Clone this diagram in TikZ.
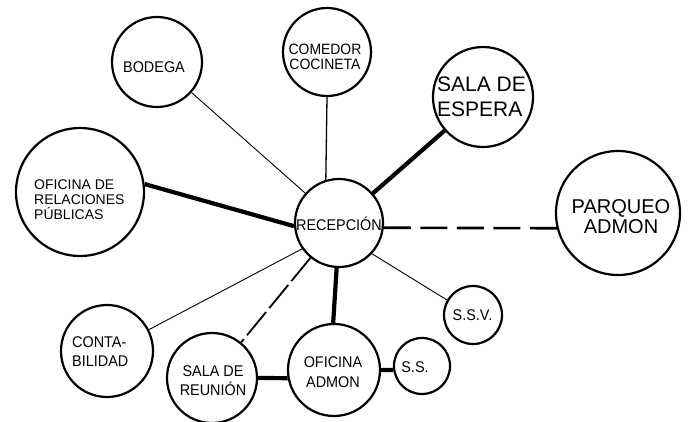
\documentclass[tikz,border=0pt]{standalone}
\usepackage{fontspec}
\setmainfont{Liberation Sans}
\newfontfamily\condf[FakeStretch=0.93]{Liberation Sans}
\begin{document}
\begin{tikzpicture}[x=1pt,y=-1pt,
  room/.style={draw=black,circle,line width=2.2pt,inner sep=0pt,fill=white},
  lbl/.style={inner sep=0pt,font=\condf\fontsize{15.5}{15}\selectfont},
  thinline/.style={line width=0.9pt},
  thickline/.style={line width=4.2pt},
  longdash/.style={line width=2.6pt,dash pattern=on 27pt off 9.5pt},
  meddash/.style={line width=1.8pt,dash pattern=on 30pt off 5pt}]
\useasboundingbox[fill=white] (0,0) rectangle (689,421);
% rooms
\node[room,minimum size=90pt]  (bod)   at (157,62)  {};
\node[room,minimum size=88pt]  (com)   at (327,52)  {};
\node[room,minimum size=100pt] (esp)   at (483,97)  {};
\node[room,minimum size=128pt] (rp)    at (80,192)  {};
\node[room,minimum size=88pt]  (rec)   at (339,223) {};
\node[room,minimum size=124pt] (parq)  at (618,213) {};
\node[room,minimum size=92pt]  (conta) at (107,351) {};
\node[room,minimum size=90pt]  (sr)    at (212,378) {};
\node[room,minimum size=92pt]  (oa)    at (334,370) {};
\node[room,minimum size=56pt]  (ss)    at (422,366) {};
\node[room,minimum size=58pt]  (ssv)   at (473,315) {};
% connectors
\draw[thinline] (bod) -- (rec);
\draw[line width=1.3pt] (com.south) -- (rec.107);
\draw[thickline] (esp) -- (rec);
\draw[thickline] (rp.7) -- (rec.184);
\draw[longdash] (rec.-6) -- (parq.194);
\draw[thinline] (rec.-43) -- (ssv.150);
\draw[thickline] (rec.267) -- (oa.91);
\draw[thinline] (rec.215) -- (conta.27);
\draw[meddash] (rec) -- (sr);
\draw[thickline] (sr.east) -- (oa.190);
\draw[thickline] (oa.east) -- (ss.188);
% labels
\node[lbl,anchor=base] (bod-t) at (154,72) {BODEGA};
\node[lbl,align=center,font=\condf\fontsize{15}{15}\selectfont] (com-t) at (325,57) {COMEDOR\\COCINETA};
\node[lbl,align=left,anchor=west,font=\fontsize{21}{25}\selectfont] (esp-t) at (437,97) {SALA DE\\ESPERA};
\node[lbl,align=left,anchor=west,font=\fontsize{14}{15}\selectfont] (rp-t) at (34,200) {OFICINA DE\\RELACIONES\\PÚBLICAS};
\node[lbl,anchor=base] (rec-t) at (339,230) {RECEPCIÓN};
\node[lbl,align=center,font=\fontsize{20}{20}\selectfont] (parq-t) at (621,216.5) {PARQUEO\\ADMON};
\node[lbl,align=left,anchor=west,font=\condf\fontsize{15.5}{19}\selectfont] (conta-t) at (72,352) {CONTA-\\BILIDAD};
\node[lbl,align=center,font=\condf\fontsize{15.5}{19}\selectfont] (sr-t) at (213,381) {SALA DE\\REUNIÓN};
\node[lbl,align=center,font=\condf\fontsize{15.5}{20}\selectfont] (oa-t) at (333,372) {OFICINA\\ADMON};
\node[lbl,anchor=base] (ss-t) at (415,372) {S.S.};
\node[lbl,anchor=base] (ssv-t) at (472.5,320) {S.S.V.};
\end{tikzpicture}
\end{document}
